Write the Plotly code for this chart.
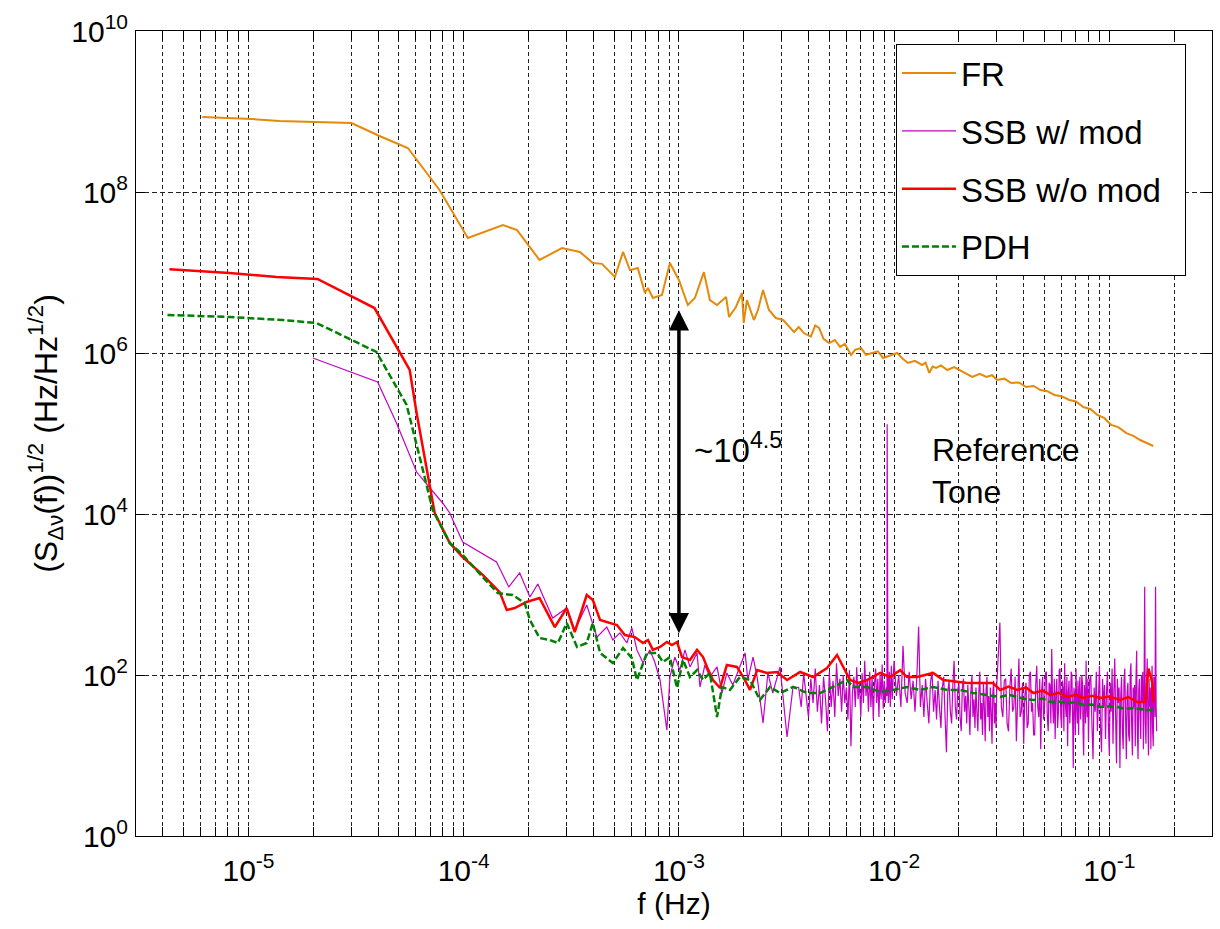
import math
import plotly.graph_objects as go

# ---------------------------------------------------------------------------
# Frequency-noise amplitude spectral densities, (S_dv(f))^1/2 in Hz/Hz^1/2
# ---------------------------------------------------------------------------

# Free-running laser (FR)
fr_freq = [6.1e-6, 7.9e-6, 1.04e-5, 1.39e-5, 1.99e-5, 3.01e-5, 4.06e-5, 5.5e-5, 7.72e-5, 1.045e-4,
           1.52e-4, 1.77e-4, 2.25e-4, 2.86e-4, 3.47e-4, 3.98e-4, 4.39e-4, 5.04e-4, 5.5e-4, 5.92e-4,
           6.44e-4, 6.95e-4, 7.18e-4, 7.57e-4, 8.34e-4, 9.08e-4, 1.0e-3, 1.10e-3, 1.186e-3, 1.306e-3,
           1.393e-3, 1.503e-3, 1.656e-3, 1.71e-3, 1.84e-3, 1.963e-3, 2.0e-3, 2.07e-3, 2.23e-3, 2.33e-3,
           2.46e-3, 2.62e-3, 2.82e-3, 3.05e-3, 3.43e-3, 3.6e-3, 3.81e-3, 4.1e-3, 4.3e-3, 4.48e-3,
           4.7e-3, 4.99e-3, 5.3e-3, 5.61e-3, 5.9e-3, 6.31e-3, 6.6e-3, 7.03e-3, 7.4e-3, 7.91e-3,
           8.4e-3, 8.89e-3, 9.5e-3, 1.033e-2, 1.1e-2, 1.161e-2, 1.25e-2, 1.349e-2, 1.4e-2, 1.456e-2,
           1.51e-2, 1.567e-2, 1.65e-2, 1.766e-2, 1.9e-2, 2.03e-2, 2.15e-2, 2.31e-2, 2.5e-2, 2.68e-2,
           2.85e-2, 3.01e-2, 3.25e-2, 3.5e-2, 3.8e-2, 4.11e-2, 4.45e-2, 4.78e-2, 5.15e-2, 5.55e-2,
           6.0e-2, 6.52e-2, 7.0e-2, 7.57e-2, 8.2e-2, 8.79e-2, 9.5e-2, 0.102, 0.110, 0.120,
           0.130, 0.139, 0.150, 0.160]
fr_asd = [8.55e8, 8.4e8, 8.07e8, 7.62e8, 7.41e8, 7.2e8, 4.96e8, 3.52e8, 1.06e8, 2.68e7,
          3.89e7, 3.37e7, 1.43e7, 2.01e7, 1.80e7, 1.31e7, 1.28e7, 8.8e6, 1.80e7, 1.07e7,
          1.14e7, 5.56e6, 6.41e6, 4.82e6, 5.25e6, 1.31e7, 8.07e6, 3.95e6, 4.82e6, 1.01e7,
          4.55e6, 3.95e6, 4.97e6, 2.80e6, 3.73e6, 5.56e6, 2.36e6, 4.55e6, 2.57e6, 3.42e6,
          6.06e6, 3.42e6, 2.72e6, 2.57e6, 1.82e6, 2.1e6, 1.77e6, 1.6e6, 2.2e6, 2.05e6,
          1.5e6, 1.33e6, 1.45e6, 1.19e6, 1.3e6, 9.45e5, 1.1e6, 1.15e6, 9.5e5, 1.0e6,
          1.05e6, 8.67e5, 9.2e5, 1.0e6, 8.4e5, 7.51e5, 8.0e5, 7.10e5, 7.6e5, 5.65e5,
          6.8e5, 6.52e5, 7.0e5, 6.15e5, 6.7e5, 6.15e5, 5.6e5, 5.04e5, 5.5e5, 5.04e5,
          5.3e5, 4.62e5, 4.8e5, 4.24e5, 4.3e5, 3.78e5, 3.9e5, 3.47e5, 3.35e5, 3.01e5,
          2.9e5, 2.61e5, 2.5e5, 2.13e5, 2.0e5, 1.70e5, 1.55e5, 1.28e5, 1.2e5, 1.01e5,
          9.3e4, 8.3e4, 7.6e4, 7.0e4]

# SSB lock with modulation: low-frequency part (Hz) ...
ssb_mod_freq_low = [1.99e-5, 3.98e-5, 4.87e-5, 6.04e-5, 7.98e-5, 8.61e-5, 9.89e-5, 1.185e-4, 1.42e-4, 1.62e-4,
                    1.82e-4, 2.03e-4, 2.21e-4, 2.59e-4, 3.01e-4, 3.28e-4, 3.73e-4, 4.16e-4, 4.62e-4, 4.93e-4,
                    5.32e-4, 5.73e-4, 6.04e-4, 6.38e-4, 6.81e-4, 7.33e-4, 7.72e-4, 8.17e-4, 8.79e-4, 9.08e-4,
                    9.57e-4, 1.01e-3, 1.067e-3, 1.125e-3, 1.214e-3, 1.253e-3, 1.32e-3, 1.393e-3, 1.503e-3, 1.585e-3,
                    1.67e-3, 1.78e-3, 1.92e-3, 2.03e-3, 2.09e-3, 2.21e-3, 2.31e-3, 2.46e-3, 2.59e-3, 2.73e-3,
                    2.95e-3, 3.18e-3, 3.39e-3]
ssb_mod_asd_low = [8.67e5, 4.37e5, 1.35e5, 3.32e4, 1.37e4, 1.03e4, 4.49e3, 3.37e3, 2.53e3, 1.24e3,
                   1.85e3, 931, 1.35e3, 511, 679, 362, 741, 296, 394, 272,
                   333, 250, 384, 205, 141, 205, 145, 86.7, 20.7, 94.4,
                   167, 115, 205, 126, 188, 71, 133, 94.4, 126, 59.7,
                   106, 75.1, 126, 188, 86.7, 167, 94.4, 25.3, 106, 59.7,
                   126, 17.0, 71]

# ... and the densely sampled part above 3.6 mHz (frequencies in mHz)
ssb_mod_freq_mhz = [
    3.6, 3.7, 3.8, 3.9, 4.0, 4.1, 4.2, 4.3, 4.4, 4.5,
    4.6, 4.7, 4.8, 4.9, 5.0, 5.1, 5.2, 5.3, 5.4, 5.5,
    5.6, 5.7, 5.8, 5.9, 6.0, 6.1, 6.2, 6.3, 6.4, 6.5,
    6.6, 6.7, 6.8, 6.9, 7.0, 7.1, 7.2, 7.3, 7.4, 7.5,
    7.6, 7.7, 7.8, 7.9, 8.0, 8.1, 8.2, 8.3, 8.4, 8.5,
    8.6, 8.7, 8.8, 8.9, 9.0, 9.1, 9.2,
    9.26, 9.28, 9.30, 9.33, 9.36,
    9.4, 9.5, 9.6, 9.7, 9.8, 9.9, 10.0,
    10.25, 10.5, 10.75, 11.0, 11.25, 11.5, 11.75, 12.0, 12.25, 12.5,
    12.75, 13.0, 13.25, 13.5, 13.75, 14.0, 14.25, 14.5, 14.75, 15.0,
    15.25, 15.5, 15.75, 16.0, 16.25, 16.5, 16.75, 17.0, 17.25, 17.5,
    17.75, 18.0, 18.25, 18.5, 18.75, 19.0, 19.25, 19.5, 19.75, 20.0,
    20.25, 20.5, 20.75, 21.0, 21.25, 21.5, 21.75, 22.0, 22.25, 22.5,
    22.75, 23.0, 23.25, 23.5, 23.75, 24.0, 24.25, 24.5, 24.75, 25.0,
    25.25, 25.5, 25.75, 26.0, 26.25, 26.5, 26.75, 27.0, 27.25, 27.5,
    27.75, 28.0, 28.25, 28.5, 28.75, 29.0, 29.25, 29.5, 29.75, 30.0,
    31, 31.5, 32, 32.5, 33, 33.5, 34, 34.5, 35, 35.5,
    36, 36.5, 37, 37.5, 38, 38.5, 39, 39.5, 40, 40.5,
    41, 41.5, 42, 42.5, 43, 43.5, 44, 44.5, 45, 45.5,
    46, 46.5, 47, 47.5, 48, 48.5, 49, 49.5, 50, 50.5,
    51, 51.5, 52, 52.5, 53, 53.5, 54, 54.5, 55, 55.5,
    56, 56.5, 57, 57.5, 58, 58.5, 59, 59.5, 60, 60.5,
    61, 61.5, 62, 62.5, 63, 63.5, 64, 64.5, 65, 65.5,
    66, 66.5, 67, 67.5, 68, 68.5, 69, 69.5, 70, 70.5,
    71, 71.5, 72, 72.5, 73, 73.5, 74, 74.5, 75, 75.5,
    76, 76.5, 77, 77.5, 78, 78.5, 79, 79.5, 80,
    81, 82, 83, 84, 85, 86, 87, 88, 89, 90,
    91, 92, 93, 94, 95, 96, 97, 98, 99, 100,
    101, 102, 103, 104, 105, 106, 107, 108, 109, 110,
    111, 112, 113, 114, 115, 116, 117, 118, 119, 120,
    121, 122, 123, 124, 125, 126, 127, 128, 129, 130,
    131, 132, 133, 134, 135, 136, 137, 138, 139, 140,
    141, 142, 143, 144, 145, 146, 147, 148, 149, 150,
    151, 152, 153, 154, 155, 156, 157, 158, 159, 160,
    161, 162, 163, 164, 165, 166]
ssb_mod_asd_high = [
    70, 40, 105, 55, 30, 90, 45, 120, 35, 75,
    25, 95, 50, 20, 110, 40, 85, 30, 140, 55,
    90, 35, 100, 45, 70, 28, 115, 13, 60, 95,
    40, 125, 50, 80, 30, 105, 45, 150, 55, 85,
    35, 110, 40, 95, 28, 75, 120, 45, 90, 30,
    100, 50, 135, 38, 85, 45, 70,
    55, 1.3e5, 60, 1500, 75,
    45, 110, 40, 130, 50, 95, 150,
    55, 100, 40, 230, 60, 45, 110, 50, 85, 35,
    95, 400, 40, 75, 30, 90, 45, 25, 80, 110,
    35, 65, 28, 85, 40, 22, 70, 95, 30, 11,
    60, 85, 35, 25, 75, 150, 40, 28, 65, 80,
    30, 20, 70, 90, 35, 55, 25, 75, 40, 18,
    65, 100, 30, 50, 22, 70, 35, 20, 60, 110,
    28, 45, 18, 80, 40, 15, 65, 95, 30, 55,
    20, 70, 35, 14, 60, 85, 25, 45, 22, 75,
    450, 40, 30, 85, 90, 25, 20, 70, 120, 35,
    40, 95, 15, 60, 160, 30, 35, 80, 14, 55,
    80, 22, 25, 100, 110, 35, 45, 18, 18, 75,
    130, 40, 30, 90, 12, 65, 95, 28, 40, 105,
    110, 30, 20, 80, 75, 25, 210, 45, 25, 90,
    16, 60, 90, 22, 35, 115, 120, 30, 22, 85,
    70, 20, 140, 45, 30, 95, 13, 60, 85, 25,
    40, 110, 100, 30, 7, 70, 55, 18, 120, 45,
    25, 85, 18, 65, 95, 28, 40, 100, 80, 20,
    10, 75, 60, 25, 150, 40, 30, 90, 15,
    85, 100, 25, 9, 70, 35, 110, 20, 50, 130,
    22, 11, 90, 40, 75, 16, 60, 110, 25, 10,
    80, 35, 120, 14, 65, 160, 30, 8, 90, 45,
    70, 7, 55, 95, 20, 12, 85, 120, 30, 9,
    60, 80, 18, 15, 100, 140, 25, 10, 70, 40,
    75, 13, 90, 200, 20, 9, 65, 90, 28, 16,
    100, 45, 110, 12, 60, 1250, 25, 14, 80, 160,
    30, 10, 90, 40, 70, 12, 55, 130, 20, 13,
    95, 85, 30, 1250, 40, 20]

ssb_mod_freq = ssb_mod_freq_low + [f / 1000.0 for f in ssb_mod_freq_mhz]
ssb_mod_asd = ssb_mod_asd_low + ssb_mod_asd_high

# SSB lock without modulation
ssb_nomod_freq = [4.29e-6, 8.16e-6, 1.35e-5, 2.09e-5, 3.85e-5, 5.03e-5, 5.61e-5, 6.04e-5, 6.73e-5, 7.33e-5,
                  8.61e-5, 9.89e-5, 1.225e-4, 1.47e-4, 1.585e-4, 1.725e-4, 1.96e-4, 2.25e-4, 2.65e-4, 3.01e-4,
                  3.28e-4, 3.73e-4, 3.98e-4, 4.30e-4, 5.15e-4, 5.61e-4, 6.24e-4, 6.81e-4, 7.18e-4, 7.57e-4,
                  8.17e-4, 8.79e-4, 9.27e-4, 9.80e-4, 1.033e-3, 1.125e-3, 1.214e-3, 1.295e-3, 1.35e-3, 1.44e-3,
                  1.553e-3, 1.67e-3, 1.86e-3, 1.99e-3, 2.14e-3, 2.31e-3, 2.56e-3, 2.86e-3, 3.18e-3, 3.66e-3,
                  4.20e-3, 4.88e-3, 5.43e-3, 5.79e-3, 6.24e-3, 6.81e-3, 7.48e-3, 8.61e-3, 9.57e-3, 1.067e-2,
                  1.148e-2, 1.28e-2, 1.517e-2, 1.69e-2, 1.963e-2, 2.19e-2, 2.59e-2, 2.88e-2, 3.11e-2, 3.4e-2,
                  3.73e-2, 4.1e-2, 4.44e-2, 4.9e-2, 5.32e-2, 5.8e-2, 6.38e-2, 7.0e-2, 7.57e-2, 8.3e-2,
                  9.08e-2, 0.100, 0.1125, 0.1225, 0.135, 0.147, 0.152, 0.1585, 0.160]
ssb_nomod_asd = [1.10e7, 9.86e6, 8.8e6, 8.3e6, 3.62e6, 1.03e6, 6.15e5, 1.80e5, 3.52e4, 1.03e4,
                 4.37e3, 2.92e3, 1.75e3, 1.07e3, 641, 679, 807, 906, 394, 679,
                 342, 986, 855, 482, 418, 314, 296, 250, 272, 205,
                 223, 257, 236, 257, 167, 154, 205, 167, 126, 86.7,
                 69, 133, 126, 94.4, 65.2, 115, 106, 109, 86.7, 109,
                 94.4, 122, 177, 126, 86.7, 79.6, 86.7, 106, 94.4, 115,
                 94.4, 94.4, 106, 86.7, 81.8, 79.6, 79.6, 79.6, 65.2, 72,
                 65.2, 70, 59.7, 64, 56.5, 60, 53.3, 57, 51.8, 55,
                 51.8, 54, 48.9, 53.3, 46.2, 46.2, 120, 79.6, 46.2]

# Pound-Drever-Hall lock (PDH)
pdh_freq = [4.20e-6, 8.16e-6, 1.44e-5, 2.07e-5, 3.93e-5, 5.43e-5, 6.24e-5, 7.18e-5, 8.61e-5, 9.89e-5,
            1.225e-4, 1.44e-4, 1.69e-4, 1.92e-4, 2.03e-4, 2.25e-4, 2.51e-4, 2.74e-4, 3.01e-4, 3.36e-4,
            3.73e-4, 3.98e-4, 4.30e-4, 4.93e-4, 5.5e-4, 6.04e-4, 6.38e-4, 7.10e-4, 7.91e-4, 8.43e-4,
            9.08e-4, 9.80e-4, 1.045e-3, 1.125e-3, 1.214e-3, 1.295e-3, 1.393e-3, 1.503e-3, 1.585e-3, 1.726e-3,
            1.92e-3, 2.14e-3, 2.38e-3, 2.65e-3, 2.95e-3, 3.39e-3, 3.94e-3, 4.53e-3, 5.20e-3, 6.04e-3,
            6.44e-3, 7.48e-3, 8.61e-3, 9.89e-3, 1.148e-2, 1.32e-2, 1.517e-2, 1.766e-2, 2.03e-2, 2.33e-2,
            2.71e-2, 3.11e-2, 3.4e-2, 3.73e-2, 4.1e-2, 4.44e-2, 4.9e-2, 5.32e-2, 5.8e-2, 6.38e-2,
            7.0e-2, 7.57e-2, 8.3e-2, 9.08e-2, 0.100, 0.109, 0.118, 0.1295, 0.140, 0.150, 0.160]
pdh_asd = [2.97e6, 2.80e6, 2.57e6, 2.36e6, 1.03e6, 2.26e5, 5.11e4, 1.12e4, 4.37e3, 3.10e3,
           1.65e3, 1.04e3, 986, 784, 482, 288, 272, 250, 443, 223,
           250, 443, 188, 141, 216, 163, 86.7, 188, 188, 145,
           167, 69, 154, 94.4, 115, 86.7, 106, 30.1, 71, 65.2,
           94.4, 86.7, 48.9, 71, 59.7, 71, 59.7, 59.7, 71, 86.7,
           71, 71, 61.5, 65.2, 71, 65.2, 71, 65.2, 65.2, 59.7,
           56.5, 53.3, 57, 53.3, 50, 48.9, 51, 46.2, 47, 44.9,
           46, 42.4, 43, 40.0, 41, 40.0, 38, 38.9, 37.5, 36.7, 36.7]

# Axis ticks
x_decades = [1e-6, 1e-5, 1e-4, 1e-3, 1e-2, 1e-1]
x_labelled = {1e-5: "10<sup>-5</sup>", 1e-4: "10<sup>-4</sup>", 1e-3: "10<sup>-3</sup>",
              1e-2: "10<sup>-2</sup>", 1e-1: "10<sup>-1</sup>"}
minor_steps = [1, 2, 3, 4, 5, 6, 7, 8, 9]
y_tick_vals = [1e0, 1e2, 1e4, 1e6, 1e8, 1e10]
y_tick_text = ["10<sup>0</sup>", "10<sup>2</sup>", "10<sup>4</sup>",
               "10<sup>6</sup>", "10<sup>8</sup>", "10<sup>10</sup>"]

X_MIN, X_MAX = 3e-6, 0.3

x_tick_vals, x_tick_text = [], []
for dec in x_decades:
    for m in minor_steps:
        v = round(m * dec, 12)
        if X_MIN < v < X_MAX:
            x_tick_vals.append(v)
            x_tick_text.append(x_labelled.get(v, ""))

FONT = "Liberation Sans, Arial, Helvetica, sans-serif"
NBSP = "\u00a0"

fig = go.Figure()
fig.add_trace(go.Scatter(x=fr_freq, y=fr_asd, mode="lines", name="FR", legendgroup="a",
                         line=dict(color="#E5890A", width=2)))
fig.add_trace(go.Scatter(x=ssb_mod_freq, y=ssb_mod_asd, mode="lines", name="SSB w/ mod", legendgroup="b",
                         line=dict(color="#C400C4", width=1.2)))
fig.add_trace(go.Scatter(x=ssb_nomod_freq, y=ssb_nomod_asd, mode="lines",
                         name="SSB w/o mod" + NBSP * 2, legendgroup="c",
                         line=dict(color="#FF0000", width=2.5)))
fig.add_trace(go.Scatter(x=pdh_freq, y=pdh_asd, mode="lines", name="PDH", legendgroup="d",
                         line=dict(color="#008000", width=2.5, dash="7px,3px")))

grid_style = dict(showgrid=True, gridcolor="#222222", gridwidth=1,
                  showline=True, linecolor="black", linewidth=1, mirror="ticks",
                  ticks="inside", ticklen=9, tickcolor="black", tickwidth=1,
                  zeroline=False)

fig.update_xaxes(type="log", range=[math.log10(X_MIN), math.log10(X_MAX)],
                 tickmode="array", tickvals=x_tick_vals, ticktext=x_tick_text,
                 griddash="4px,3px",
                 tickfont=dict(family=FONT, size=30, color="black"),
                 ticklabelstandoff=8,
                 title=dict(text="f (Hz)", font=dict(family=FONT, size=30, color="black"), standoff=6),
                 **grid_style)
fig.update_yaxes(type="log", range=[0, 10],
                 tickmode="array", tickvals=y_tick_vals, ticktext=y_tick_text,
                 griddash="5px,3px",
                 tickfont=dict(family=FONT, size=30, color="black"),
                 ticklabelstandoff=1,
                 title=dict(text="(S<sub>Δν</sub>(f))<sup>1/2</sup> (Hz/Hz<sup>1/2</sup>)",
                            font=dict(family=FONT, size=32, color="black"), standoff=4),
                 **grid_style)

# Double-headed arrow marking the suppression at 1 mHz
ARROW_F = 1e-3
ARROW_LOW, ARROW_HIGH = 10 ** 2.5, 10 ** 6.53
fig.add_annotation(x=math.log10(ARROW_F), y=math.log10(ARROW_HIGH),
                   ax=math.log10(ARROW_F), ay=math.log10(ARROW_LOW),
                   xref="x", yref="y", axref="x", ayref="y", text="",
                   showarrow=True, arrowside="end+start",
                   arrowhead=2, startarrowhead=2, arrowsize=1.15, startarrowsize=1.15,
                   arrowwidth=3.5, arrowcolor="black")
fig.add_annotation(x=-2.94, y=4.82, xref="x", yref="y", xanchor="left", yanchor="middle",
                   text="~10<sup>4.5</sup>", showarrow=False,
                   font=dict(family=FONT, size=33, color="black"))
fig.add_annotation(x=-1.833, y=4.53, xref="x", yref="y", xanchor="left", yanchor="middle",
                   align="left", text="Reference<br>Tone", showarrow=False,
                   font=dict(family=FONT, size=32, color="black"))

fig.update_layout(
    width=1220, height=929,
    margin=dict(l=136, r=8, t=31, b=93),
    paper_bgcolor="white", plot_bgcolor="white",
    font=dict(family=FONT, color="black"),
    showlegend=True,
    legend=dict(x=0.9758, y=0.9839, xanchor="right", yanchor="top",
                bgcolor="white", bordercolor="black", borderwidth=1,
                font=dict(family=FONT, size=33, color="black"),
                tracegroupgap=12, itemwidth=54),
)

fig.write_html("out.html")
